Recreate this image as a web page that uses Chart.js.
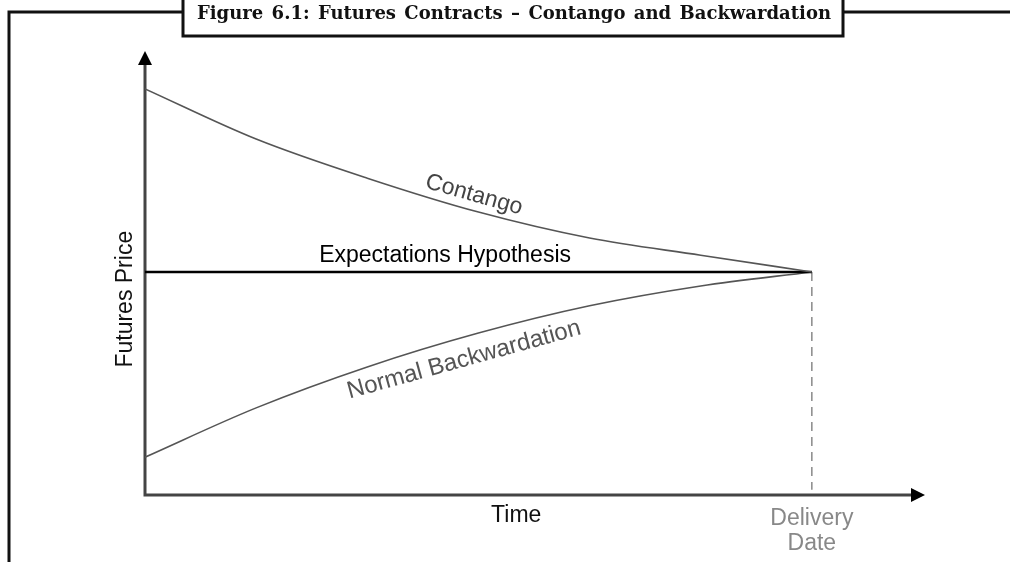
<!DOCTYPE html>
<html>
<head>
<meta charset="utf-8">
<script src="https://cdn.jsdelivr.net/npm/chart.js@4.4.1/dist/chart.umd.min.js"></script>
<style>
  html, body { margin: 0; padding: 0; background: #fff; }
  #wrap { width: 1010px; height: 562px; position: relative; }
</style>
</head>
<body>
<div id="wrap"><canvas id="futuresChart"></canvas></div>
<script>
// time runs from 0 to delivery (6); price scale is 0..100 (arbitrary units)
const timeSteps = [0, 1, 2, 3, 4, 5, 6];
const contangoPrice = [92.3, 80.9, 72.0, 64.3, 58.4, 54.5, 50.7];
const expectedPrice = [50.7, 50.7, 50.7, 50.7, 50.7, 50.7, 50.7];
const backwardationPrice = [8.6, 19.8, 29.1, 36.8, 43.0, 47.5, 50.7];
const deliveryTime = 6;
const deliveryMarker = [50.7, 1.2];

const titleText = 'Figure 6.1: Futures Contracts \u2013 Contango and Backwardation';

const toPoints = (xs, ys) => xs.map((x, i) => ({ x: x, y: ys[i] }));

// axes with arrow heads, drawn on the chart area edges
const arrowAxes = {
    id: 'arrowAxes',
    beforeDatasetsDraw(chart) {
        const { ctx, chartArea } = chart;
        const x0 = chartArea.left, y0 = chartArea.bottom;
        ctx.save();
        ctx.strokeStyle = '#444';
        ctx.fillStyle = '#000';
        ctx.lineWidth = 3;
        ctx.lineCap = 'square';
        ctx.beginPath();
        ctx.moveTo(x0, chartArea.top + 10);
        ctx.lineTo(x0, y0);
        ctx.lineTo(chartArea.right - 12, y0);
        ctx.stroke();
        // y arrow
        ctx.beginPath();
        ctx.moveTo(x0, chartArea.top - 4);
        ctx.lineTo(x0 - 7, chartArea.top + 10);
        ctx.lineTo(x0 + 7, chartArea.top + 10);
        ctx.closePath();
        ctx.fill();
        // x arrow
        ctx.beginPath();
        ctx.moveTo(chartArea.right + 2, y0);
        ctx.lineTo(chartArea.right - 12, y0 - 7);
        ctx.lineTo(chartArea.right - 12, y0 + 7);
        ctx.closePath();
        ctx.fill();
        ctx.restore();
    }
};

// curve names and axis captions
const curveLabels = {
    id: 'curveLabels',
    afterDatasetsDraw(chart) {
        const { ctx, scales } = chart;
        const px = v => scales.x.getPixelForValue(v);
        const py = v => scales.y.getPixelForValue(v);

        const put = (text, x, y, angle, color, baseline, size) => {
            ctx.save();
            ctx.translate(x, y);
            ctx.rotate(angle * Math.PI / 180);
            ctx.font = (size || 23) + 'px "Liberation Sans", Arial, sans-serif';
            ctx.fillStyle = color;
            ctx.textAlign = 'center';
            ctx.textBaseline = baseline || 'middle';
            ctx.fillText(text, 0, 0);
            ctx.restore();
        };

        put('Contango', px(2.96), py(68.2), 15.8, '#444');
        put('Expectations Hypothesis', px(2.70), py(53.0), 0, '#000', 'alphabetic');
        put('Normal Backwardation', px(2.87), py(30.7), -15.5, '#555', 'middle', 24);
        put('Futures Price', chart.chartArea.left - 19, py(44.5), -90, '#111');
        put('Time', px(3.34), chart.chartArea.bottom + 21, 0, '#111');
        put('Delivery', px(deliveryTime), chart.chartArea.bottom + 30, 0, '#888', 'alphabetic');
        put('Date', px(deliveryTime), chart.chartArea.bottom + 55, 0, '#888', 'alphabetic');
    }
};

// page frame with boxed figure caption
const figureFrame = {
    id: 'figureFrame',
    afterDraw(chart) {
        const { ctx } = chart;
        const boxL = 183, boxR = 843, boxB = 36, lineY = 12;
        ctx.save();
        ctx.strokeStyle = '#111';
        ctx.lineWidth = 3;
        ctx.beginPath();
        ctx.moveTo(9, 562);
        ctx.lineTo(9, lineY);
        ctx.lineTo(boxL, lineY);
        ctx.moveTo(boxR, lineY);
        ctx.lineTo(1010, lineY);
        ctx.stroke();
        ctx.fillStyle = '#fff';
        ctx.fillRect(boxL, -3, boxR - boxL, boxB + 3);
        ctx.strokeRect(boxL, -3, boxR - boxL, boxB + 3);

        // fit the caption across the box, any slack goes into the word gaps
        const left = 197, right = 831;
        const family = '"DejaVu Serif", "Liberation Serif", serif';
        let size = 18;
        ctx.font = 'bold ' + size + 'px ' + family;
        const natural = ctx.measureText(titleText).width;
        if (natural > right - left) size = Math.floor(10 * size * (right - left) / natural) / 10;
        ctx.font = 'bold ' + size + 'px ' + family;
        ctx.fillStyle = '#111';
        ctx.textBaseline = 'alphabetic';
        ctx.textAlign = 'left';
        const words = titleText.split(' ');
        const used = words.reduce((s, w) => s + ctx.measureText(w).width, 0);
        const gap = (right - left - used) / (words.length - 1);
        let x = left;
        words.forEach(w => {
            ctx.fillText(w, x, 19);
            x += ctx.measureText(w).width + gap;
        });
        ctx.restore();
    }
};

new Chart(document.getElementById('futuresChart'), {
    type: 'line',
    data: {
        datasets: [
            {
                label: 'Contango',
                data: toPoints(timeSteps, contangoPrice),
                borderColor: '#555',
                borderWidth: 1.6,
                cubicInterpolationMode: 'monotone'
            },
            {
                label: 'Expectations Hypothesis',
                data: toPoints(timeSteps, expectedPrice),
                borderColor: '#000',
                borderWidth: 2.5
            },
            {
                label: 'Normal Backwardation',
                data: toPoints(timeSteps, backwardationPrice),
                borderColor: '#555',
                borderWidth: 1.6,
                cubicInterpolationMode: 'monotone'
            },
            {
                label: 'Delivery',
                data: deliveryMarker.map(v => ({ x: deliveryTime, y: v })),
                borderColor: '#777',
                borderWidth: 1.3,
                borderDash: [9, 6]
            }
        ]
    },
    options: {
        responsive: true,
        maintainAspectRatio: false,
        animation: false,
        events: [],
        layout: { padding: { left: 145, right: 87, top: 55, bottom: 67 } },
        elements: { point: { radius: 0 } },
        scales: {
            x: { type: 'linear', min: 0, max: 7, display: false },
            y: { type: 'linear', min: 0, max: 100, display: false }
        },
        plugins: {
            legend: { display: false },
            tooltip: { enabled: false }
        }
    },
    plugins: [arrowAxes, curveLabels, figureFrame]
});
</script>
</body>
</html>
